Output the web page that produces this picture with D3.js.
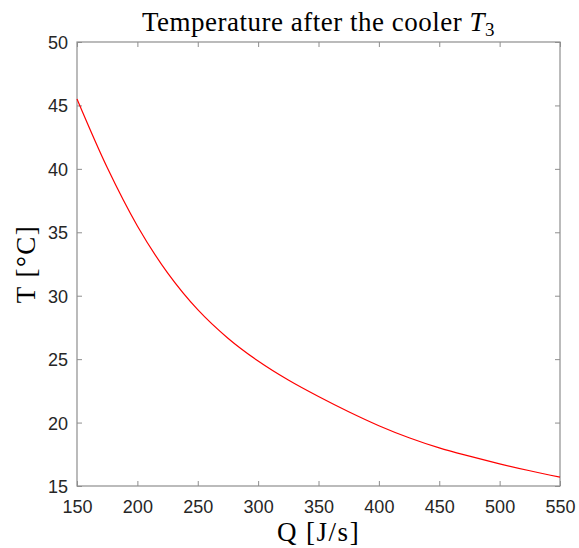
<!DOCTYPE html>
<html>
<head>
<meta charset="utf-8">
<script src="https://cdn.jsdelivr.net/npm/d3@7"></script>
<style>
  html, body { margin: 0; padding: 0; background: #fff; }
  svg { display: block; }
  .tick text { font-family: "Liberation Sans", Arial, sans-serif; font-size: 18px; fill: #262626; }
  .serif { font-family: "Liberation Serif", "DejaVu Serif", serif; fill: #000; }
</style>
</head>
<body>
<div id="chart"></div>
<script>
// ---- Data ----
const heatFlow = [150, 175, 200, 225, 250, 275, 300, 325, 350, 375, 400, 425, 450, 475, 500, 525, 550];
const tempT3   = [45.5, 40.1, 35.5, 31.8, 28.9, 26.65, 24.85, 23.35, 22.05, 20.85, 19.75, 18.8, 18.0, 17.35, 16.75, 16.2, 15.7];
const xTicks = [150, 200, 250, 300, 350, 400, 450, 500, 550];
const yTicks = [15, 20, 25, 30, 35, 40, 45, 50];

const width = 579, height = 548;
const margin = { top: 42, right: 19, bottom: 62, left: 77 };
const innerWidth = width - margin.left - margin.right;
const innerHeight = height - margin.top - margin.bottom;

const svg = d3.select('#chart').append('svg')
  .attr('width', width).attr('height', height);

const g = svg.append('g')
  .attr('transform', `translate(${margin.left},${margin.top})`);

const x = d3.scaleLinear().domain([150, 550]).range([0, innerWidth]);
const y = d3.scaleLinear().domain([15, 50]).range([innerHeight, 0]);

const axisColor = '#8e8e8e';
const tickLen = 5;

// ---- Axes (MATLAB style, ticks inward on all sides) ----
const styleAxis = sel => {
  sel.select('.domain').remove();
  sel.selectAll('.tick line').attr('stroke', axisColor);
};

g.append('g')
  .attr('transform', `translate(0,${innerHeight})`)
  .call(d3.axisBottom(x).tickValues(xTicks).tickSize(-tickLen).tickPadding(14))
  .call(styleAxis);

g.append('g')
  .call(d3.axisTop(x).tickValues(xTicks).tickSize(-tickLen).tickFormat(''))
  .call(styleAxis);

g.append('g')
  .call(d3.axisLeft(y).tickValues(yTicks).tickSize(-tickLen).tickPadding(9))
  .call(styleAxis)
  .selectAll('text').attr('dy', '0.36em');

g.append('g')
  .attr('transform', `translate(${innerWidth},0)`)
  .call(d3.axisRight(y).tickValues(yTicks).tickSize(-tickLen).tickFormat(''))
  .call(styleAxis);

// box
g.append('rect')
  .attr('x', 0).attr('y', 0)
  .attr('width', innerWidth).attr('height', innerHeight)
  .attr('fill', 'none')
  .attr('stroke', axisColor)
  .attr('stroke-width', 1.2);

// ---- Curve ----
const line = d3.line()
  .x((d, i) => x(heatFlow[i]))
  .y(d => y(d))
  .curve(d3.curveCatmullRom.alpha(0.5));

g.append('path')
  .datum(tempT3)
  .attr('d', line)
  .attr('fill', 'none')
  .attr('stroke', '#ff0000')
  .attr('stroke-width', 1.2);

// ---- Title and labels ----
const title = svg.append('text')
  .attr('class', 'serif')
  .attr('x', margin.left + innerWidth / 2)
  .attr('y', 31)
  .attr('text-anchor', 'middle')
  .attr('font-size', '27px')
  .attr('letter-spacing', '0.5px');
title.append('tspan').text('Temperature after the cooler ');
title.append('tspan').attr('font-style', 'italic').text('T');
title.append('tspan').attr('font-size', '19px').attr('dy', '5').text('3');

svg.append('text')
  .attr('class', 'serif')
  .attr('x', margin.left + innerWidth / 2)
  .attr('y', 541)
  .attr('text-anchor', 'middle')
  .attr('font-size', '27px')
  .attr('letter-spacing', '1.5px')
  .text('Q [J/s]');

svg.append('text')
  .attr('class', 'serif')
  .attr('transform', `translate(35,${margin.top + innerHeight / 2}) rotate(-90)`)
  .attr('text-anchor', 'middle')
  .attr('font-size', '27px')
  .attr('letter-spacing', '1.5px')
  .text('T [°C]');
</script>
</body>
</html>
